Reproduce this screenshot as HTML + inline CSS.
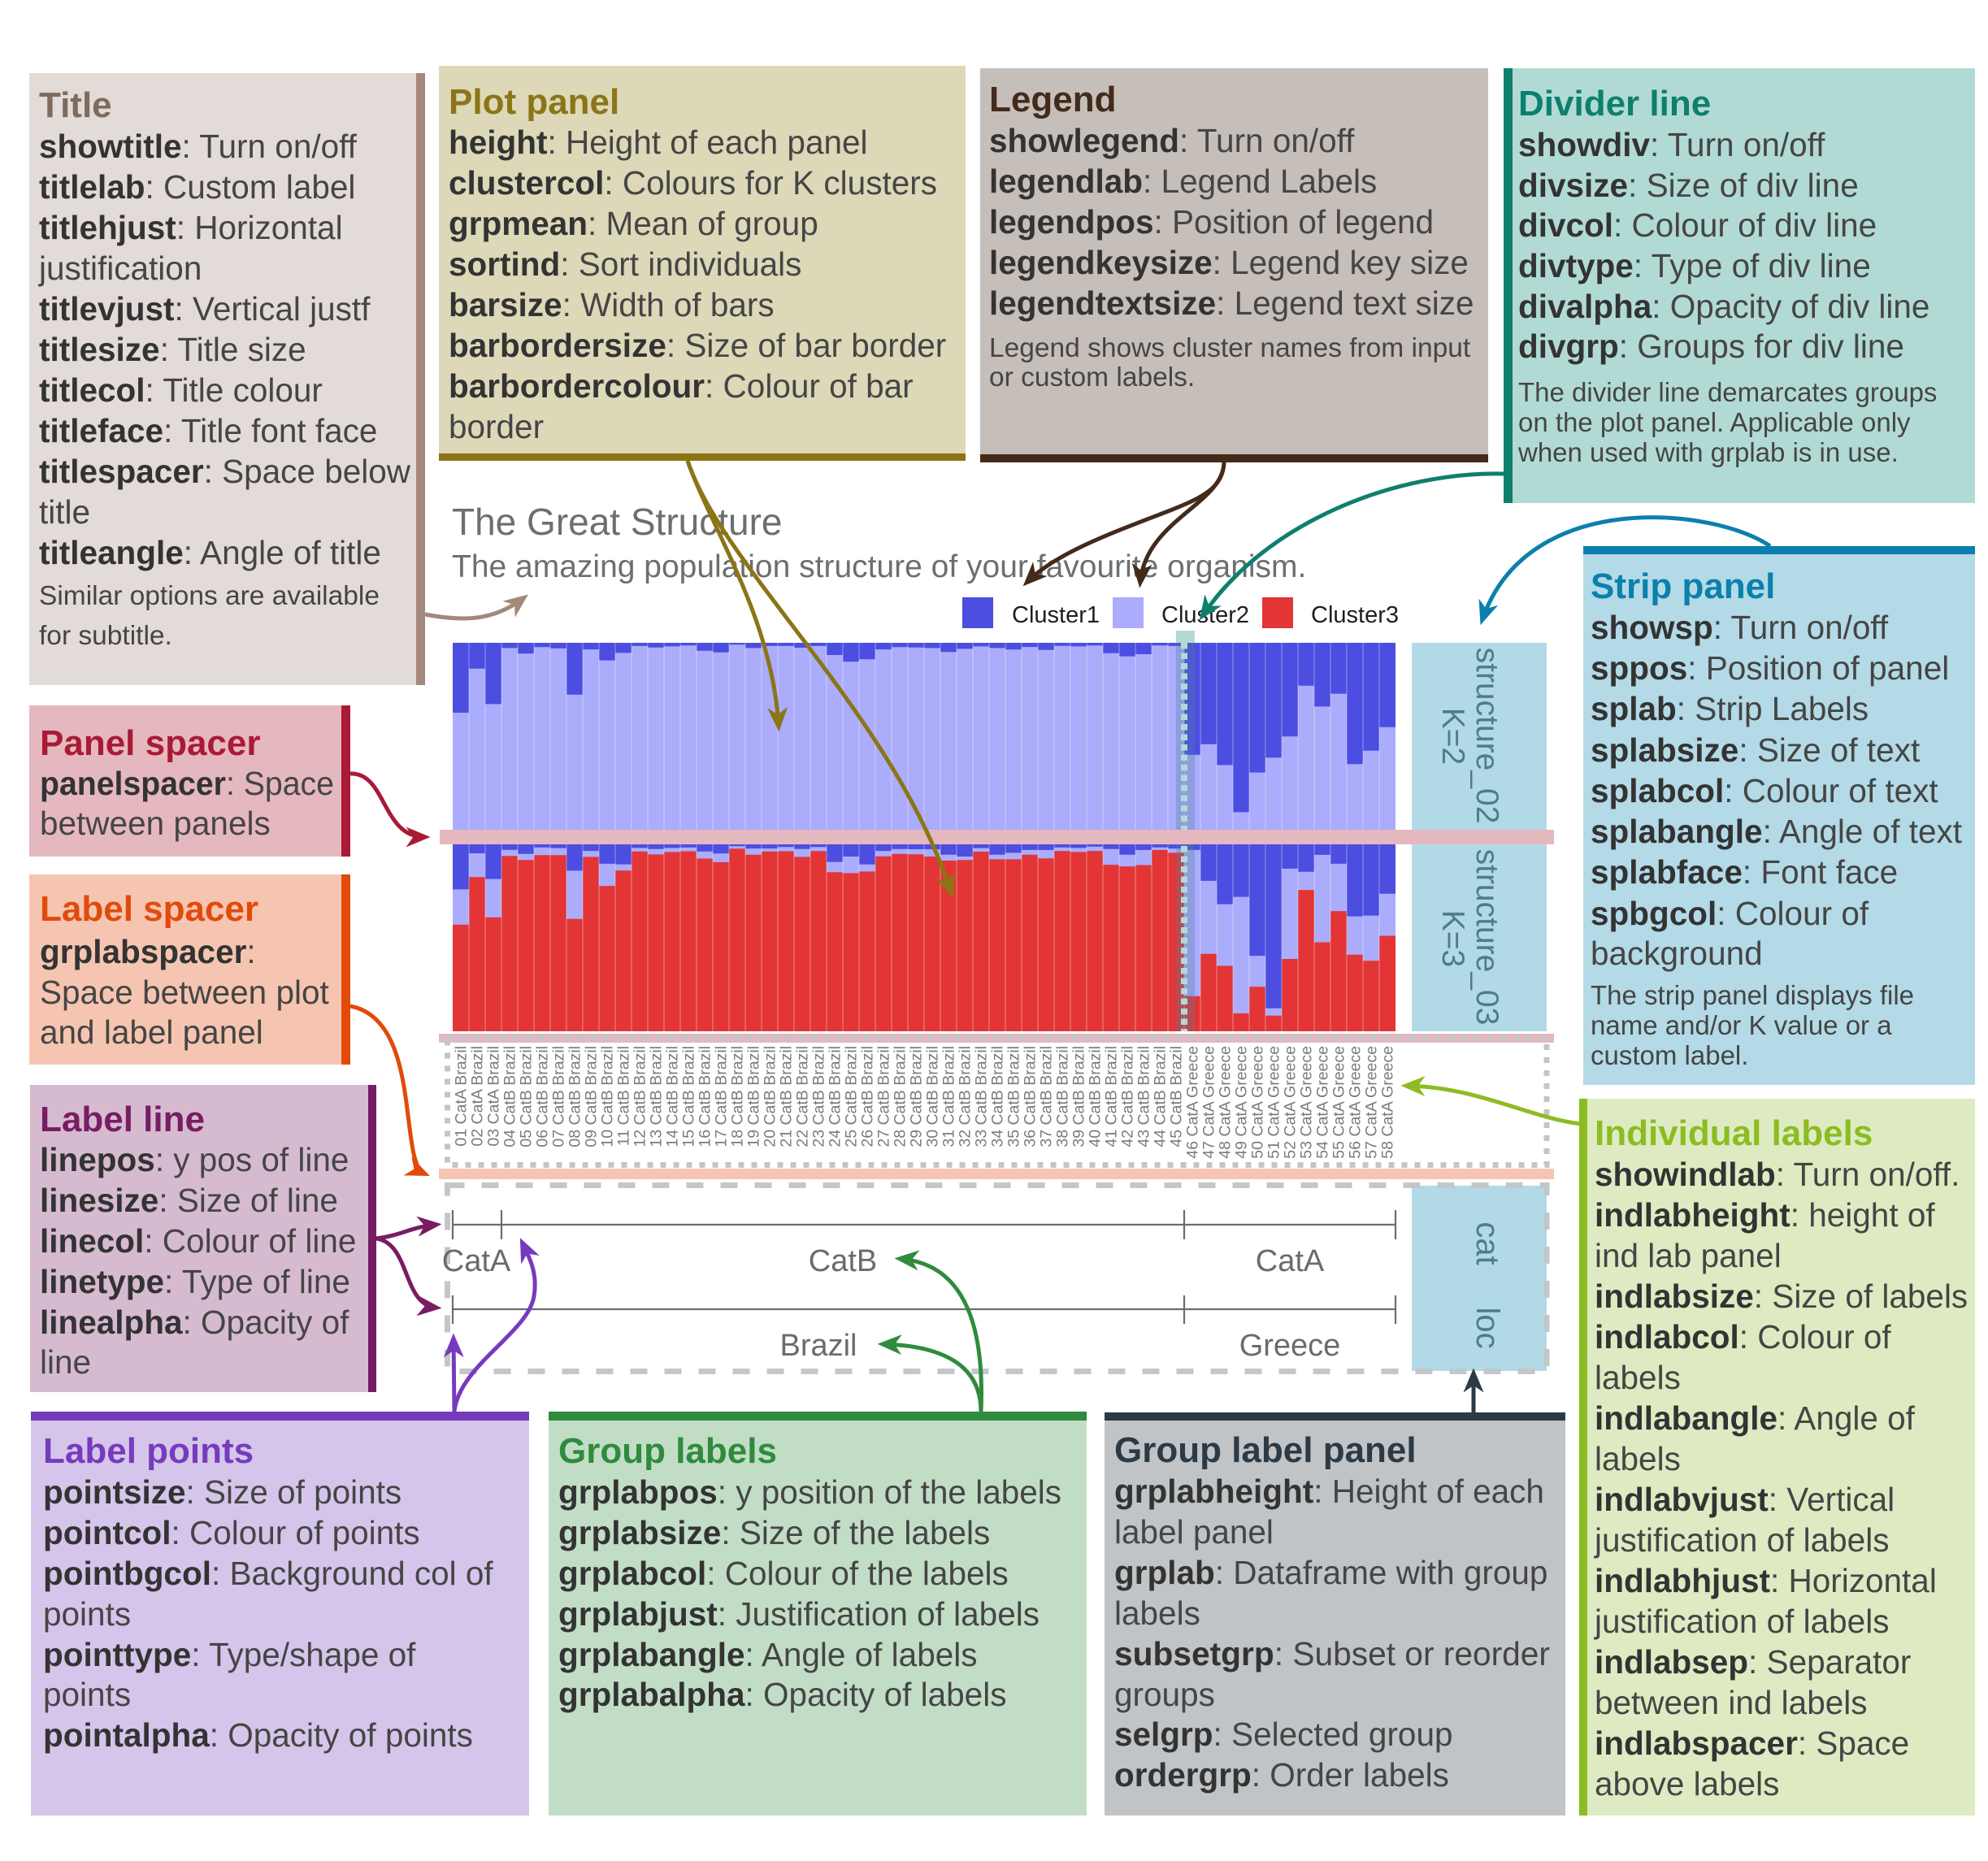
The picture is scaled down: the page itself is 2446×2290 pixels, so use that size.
<!DOCTYPE html>
<html><head><meta charset="utf-8"><style>
html,body{margin:0;padding:0;background:#fff;}
svg{display:block;}
.t{font-family:"Liberation Sans",Arial,sans-serif;font-size:40.5px;fill:#454545;}
.t tspan.b{font-weight:bold;fill:#333;}
.h{font-family:"Liberation Sans",Arial,sans-serif;font-size:44px;font-weight:bold;}
.n{font-family:"Liberation Sans",Arial,sans-serif;font-size:33.5px;fill:#454545;}
.il{font-family:"Liberation Sans",Arial,sans-serif;font-size:19.5px;fill:#7b7b7b;}
.g{font-family:"Liberation Sans",Arial,sans-serif;font-size:38px;fill:#6b6b6b;}
.s{font-family:"Liberation Sans",Arial,sans-serif;font-size:39px;fill:#4f7c8a;}
</style></head><body>
<svg width="2446" height="2290" viewBox="0 0 2446 2290" xmlns="http://www.w3.org/2000/svg">
<defs>
<marker id="aT" viewBox="0 0 12 10" refX="9" refY="5" markerUnits="userSpaceOnUse" markerWidth="30" markerHeight="25" orient="auto"><path d="M0,0L12,5L0,10L3.5,5z" fill="#a3887b"/></marker>
<marker id="aP" viewBox="0 0 12 10" refX="9" refY="5" markerUnits="userSpaceOnUse" markerWidth="30" markerHeight="25" orient="auto"><path d="M0,0L12,5L0,10L3.5,5z" fill="#8b7516"/></marker>
<marker id="aL" viewBox="0 0 12 10" refX="9" refY="5" markerUnits="userSpaceOnUse" markerWidth="30" markerHeight="25" orient="auto"><path d="M0,0L12,5L0,10L3.5,5z" fill="#432a1b"/></marker>
<marker id="aD" viewBox="0 0 12 10" refX="9" refY="5" markerUnits="userSpaceOnUse" markerWidth="30" markerHeight="25" orient="auto"><path d="M0,0L12,5L0,10L3.5,5z" fill="#0e7f6e"/></marker>
<marker id="aS" viewBox="0 0 12 10" refX="9" refY="5" markerUnits="userSpaceOnUse" markerWidth="30" markerHeight="25" orient="auto"><path d="M0,0L12,5L0,10L3.5,5z" fill="#0b80ad"/></marker>
<marker id="aPS" viewBox="0 0 12 10" refX="9" refY="5" markerUnits="userSpaceOnUse" markerWidth="30" markerHeight="25" orient="auto"><path d="M0,0L12,5L0,10L3.5,5z" fill="#a91a35"/></marker>
<marker id="aLS" viewBox="0 0 12 10" refX="9" refY="5" markerUnits="userSpaceOnUse" markerWidth="30" markerHeight="25" orient="auto"><path d="M0,0L12,5L0,10L3.5,5z" fill="#e24a0b"/></marker>
<marker id="aLL" viewBox="0 0 12 10" refX="9" refY="5" markerUnits="userSpaceOnUse" markerWidth="30" markerHeight="25" orient="auto"><path d="M0,0L12,5L0,10L3.5,5z" fill="#771d63"/></marker>
<marker id="aLP" viewBox="0 0 12 10" refX="9" refY="5" markerUnits="userSpaceOnUse" markerWidth="30" markerHeight="25" orient="auto"><path d="M0,0L12,5L0,10L3.5,5z" fill="#763bbd"/></marker>
<marker id="aGL" viewBox="0 0 12 10" refX="9" refY="5" markerUnits="userSpaceOnUse" markerWidth="30" markerHeight="25" orient="auto"><path d="M0,0L12,5L0,10L3.5,5z" fill="#2f8b3d"/></marker>
<marker id="aGP" viewBox="0 0 12 10" refX="9" refY="5" markerUnits="userSpaceOnUse" markerWidth="30" markerHeight="25" orient="auto"><path d="M0,0L12,5L0,10L3.5,5z" fill="#2c3a45"/></marker>
<marker id="aIL" viewBox="0 0 12 10" refX="9" refY="5" markerUnits="userSpaceOnUse" markerWidth="30" markerHeight="25" orient="auto"><path d="M0,0L12,5L0,10L3.5,5z" fill="#8cbc22"/></marker>
</defs>
<rect width="2446" height="2290" fill="#fff"/>

<!-- Title -->
<rect x="36" y="90" width="476" height="753" fill="#e2dbd8"/>
<rect x="512" y="90" width="11" height="753" fill="#a3887b"/>
<text class="h" x="48" y="144" fill="#7d6b5d">Title</text>
<text class="t" x="48" y="194"><tspan class="b">showtitle</tspan>: Turn on/off</text>
<text class="t" x="48" y="244"><tspan class="b">titlelab</tspan>: Custom label</text>
<text class="t" x="48" y="294"><tspan class="b">titlehjust</tspan>: Horizontal</text>
<text class="t" x="48" y="344">justification</text>
<text class="t" x="48" y="394"><tspan class="b">titlevjust</tspan>: Vertical justf</text>
<text class="t" x="48" y="444"><tspan class="b">titlesize</tspan>: Title size</text>
<text class="t" x="48" y="494"><tspan class="b">titlecol</tspan>: Title colour</text>
<text class="t" x="48" y="544"><tspan class="b">titleface</tspan>: Title font face</text>
<text class="t" x="48" y="594"><tspan class="b">titlespacer</tspan>: Space below</text>
<text class="t" x="48" y="644">title</text>
<text class="t" x="48" y="694"><tspan class="b">titleangle</tspan>: Angle of title</text>
<text class="n" x="48" y="744">Similar options are available</text>
<text class="n" x="48" y="793">for subtitle.</text>

<!-- Plot panel -->
<rect x="540" y="81" width="648" height="477" fill="#dcd8b8"/>
<rect x="540" y="558" width="648" height="9" fill="#8b7516"/>
<text class="h" x="552" y="140" fill="#8b7516">Plot panel</text>
<text class="t" x="552" y="189"><tspan class="b">height</tspan>: Height of each panel</text>
<text class="t" x="552" y="239"><tspan class="b">clustercol</tspan>: Colours for K clusters</text>
<text class="t" x="552" y="289"><tspan class="b">grpmean</tspan>: Mean of group</text>
<text class="t" x="552" y="339"><tspan class="b">sortind</tspan>: Sort individuals</text>
<text class="t" x="552" y="389"><tspan class="b">barsize</tspan>: Width of bars</text>
<text class="t" x="552" y="439"><tspan class="b">barbordersize</tspan>: Size of bar border</text>
<text class="t" x="552" y="489"><tspan class="b">barbordercolour</tspan>: Colour of bar</text>
<text class="t" x="552" y="539">border</text>

<!-- Legend -->
<rect x="1206" y="84" width="625" height="476" fill="#c6beb9"/>
<rect x="1206" y="559" width="625" height="10" fill="#432a1b"/>
<text class="h" x="1217" y="137" fill="#432a1b">Legend</text>
<text class="t" x="1217" y="187"><tspan class="b">showlegend</tspan>: Turn on/off</text>
<text class="t" x="1217" y="237"><tspan class="b">legendlab</tspan>: Legend Labels</text>
<text class="t" x="1217" y="287"><tspan class="b">legendpos</tspan>: Position of legend</text>
<text class="t" x="1217" y="337"><tspan class="b">legendkeysize</tspan>: Legend key size</text>
<text class="t" x="1217" y="387"><tspan class="b">legendtextsize</tspan>: Legend text size</text>
<text class="n" x="1217" y="439">Legend shows cluster names from input</text>
<text class="n" x="1217" y="475">or custom labels.</text>

<!-- Divider line -->
<rect x="1861" y="84" width="569" height="535" fill="#b2dad4"/>
<rect x="1850" y="84" width="11" height="535" fill="#0e7f6e"/>
<text class="h" x="1868" y="142" fill="#0e7f6e">Divider line</text>
<text class="t" x="1868" y="192"><tspan class="b">showdiv</tspan>: Turn on/off</text>
<text class="t" x="1868" y="242"><tspan class="b">divsize</tspan>: Size of div line</text>
<text class="t" x="1868" y="291"><tspan class="b">divcol</tspan>: Colour of div line</text>
<text class="t" x="1868" y="341"><tspan class="b">divtype</tspan>: Type of div line</text>
<text class="t" x="1868" y="391"><tspan class="b">divalpha</tspan>: Opacity of div line</text>
<text class="t" x="1868" y="440"><tspan class="b">divgrp</tspan>: Groups for div line</text>
<text class="n" x="1868" y="494" style="font-size:33px">The divider line demarcates groups</text>
<text class="n" x="1868" y="531" style="font-size:33px">on the plot panel. Applicable only</text>
<text class="n" x="1868" y="568" style="font-size:33px">when used with grplab is in use.</text>

<!-- Strip panel -->
<rect x="1948" y="681" width="482" height="654" fill="#b3dae6"/>
<rect x="1948" y="672" width="482" height="10" fill="#0b80ad"/>
<text class="h" x="1957" y="736" fill="#0b80ad">Strip panel</text>
<text class="t" x="1957" y="786"><tspan class="b">showsp</tspan>: Turn on/off</text>
<text class="t" x="1957" y="836"><tspan class="b">sppos</tspan>: Position of panel</text>
<text class="t" x="1957" y="886"><tspan class="b">splab</tspan>: Strip Labels</text>
<text class="t" x="1957" y="937"><tspan class="b">splabsize</tspan>: Size of text</text>
<text class="t" x="1957" y="987"><tspan class="b">splabcol</tspan>: Colour of text</text>
<text class="t" x="1957" y="1037"><tspan class="b">splabangle</tspan>: Angle of text</text>
<text class="t" x="1957" y="1087"><tspan class="b">splabface</tspan>: Font face</text>
<text class="t" x="1957" y="1138"><tspan class="b">spbgcol</tspan>: Colour of</text>
<text class="t" x="1957" y="1187">background</text>
<text class="n" x="1957" y="1236" style="font-size:33px">The strip panel displays file</text>
<text class="n" x="1957" y="1273" style="font-size:33px">name and/or K value or a</text>
<text class="n" x="1957" y="1310" style="font-size:33px">custom label.</text>

<!-- Panel spacer -->
<rect x="36" y="868" width="384" height="186" fill="#e5b8bf"/>
<rect x="420" y="868" width="11" height="186" fill="#a91a35"/>
<text class="h" x="49" y="929" fill="#a91a35">Panel spacer</text>
<text class="t" x="49" y="978" textLength="362" lengthAdjust="spacingAndGlyphs"><tspan class="b">panelspacer</tspan>: Space</text>
<text class="t" x="49" y="1027">between panels</text>

<!-- Label spacer -->
<rect x="36" y="1076" width="384" height="234" fill="#f5c5b1"/>
<rect x="420" y="1076" width="11" height="234" fill="#e24a0b"/>
<text class="h" x="49" y="1133" fill="#e24a0b">Label spacer</text>
<text class="t" x="49" y="1185"><tspan class="b">grplabspacer</tspan>:</text>
<text class="t" x="49" y="1235">Space between plot</text>
<text class="t" x="49" y="1284">and label panel</text>

<!-- Label line -->
<rect x="37" y="1335" width="416" height="378" fill="#d6bbd0"/>
<rect x="453" y="1335" width="10" height="378" fill="#771d63"/>
<text class="h" x="49" y="1392" fill="#771d63">Label line</text>
<text class="t" x="49" y="1441"><tspan class="b">linepos</tspan>: y pos of line</text>
<text class="t" x="49" y="1491"><tspan class="b">linesize</tspan>: Size of line</text>
<text class="t" x="49" y="1541"><tspan class="b">linecol</tspan>: Colour of line</text>
<text class="t" x="49" y="1591"><tspan class="b">linetype</tspan>: Type of line</text>
<text class="t" x="49" y="1641"><tspan class="b">linealpha</tspan>: Opacity of</text>
<text class="t" x="49" y="1690">line</text>

<!-- Label points -->
<rect x="38" y="1747" width="613" height="487" fill="#d5c5ea"/>
<rect x="38" y="1737" width="613" height="11" fill="#763bbd"/>
<text class="h" x="53" y="1800" fill="#763bbd">Label points</text>
<text class="t" x="53" y="1850"><tspan class="b">pointsize</tspan>: Size of points</text>
<text class="t" x="53" y="1900"><tspan class="b">pointcol</tspan>: Colour of points</text>
<text class="t" x="53" y="1950"><tspan class="b">pointbgcol</tspan>: Background col of</text>
<text class="t" x="53" y="2000">points</text>
<text class="t" x="53" y="2050"><tspan class="b">pointtype</tspan>: Type/shape of</text>
<text class="t" x="53" y="2099">points</text>
<text class="t" x="53" y="2149"><tspan class="b">pointalpha</tspan>: Opacity of points</text>

<!-- Group labels -->
<rect x="675" y="1747" width="662" height="487" fill="#c2ddc6"/>
<rect x="675" y="1737" width="662" height="11" fill="#2f8b3d"/>
<text class="h" x="687" y="1800" fill="#2f8b3d">Group labels</text>
<text class="t" x="687" y="1850"><tspan class="b">grplabpos</tspan>: y position of the labels</text>
<text class="t" x="687" y="1900"><tspan class="b">grplabsize</tspan>: Size of the labels</text>
<text class="t" x="687" y="1950"><tspan class="b">grplabcol</tspan>: Colour of the labels</text>
<text class="t" x="687" y="2000"><tspan class="b">grplabjust</tspan>: Justification of labels</text>
<text class="t" x="687" y="2050"><tspan class="b">grplabangle</tspan>: Angle of labels</text>
<text class="t" x="687" y="2099"><tspan class="b">grplabalpha</tspan>: Opacity of labels</text>

<!-- Group label panel -->
<rect x="1359" y="1747" width="567" height="487" fill="#c0c4c7"/>
<rect x="1359" y="1738" width="567" height="10" fill="#2c3a45"/>
<text class="h" x="1371" y="1799" fill="#2c3a45">Group label panel</text>
<text class="t" x="1371" y="1849"><tspan class="b">grplabheight</tspan>: Height of each</text>
<text class="t" x="1371" y="1899">label panel</text>
<text class="t" x="1371" y="1949"><tspan class="b">grplab</tspan>: Dataframe with group</text>
<text class="t" x="1371" y="1999">labels</text>
<text class="t" x="1371" y="2049" textLength="536" lengthAdjust="spacingAndGlyphs"><tspan class="b">subsetgrp</tspan>: Subset or reorder</text>
<text class="t" x="1371" y="2099">groups</text>
<text class="t" x="1371" y="2148"><tspan class="b">selgrp</tspan>: Selected group</text>
<text class="t" x="1371" y="2198"><tspan class="b">ordergrp</tspan>: Order labels</text>

<!-- Individual labels -->
<rect x="1953" y="1352" width="477" height="882" fill="#deebc2"/>
<rect x="1943" y="1352" width="10" height="882" fill="#8cbc22"/>
<text class="h" x="1962" y="1409" fill="#8cbc22">Individual labels</text>
<text class="t" x="1962" y="1459"><tspan class="b">showindlab</tspan>: Turn on/off.</text>
<text class="t" x="1962" y="1509"><tspan class="b">indlabheight</tspan>: height of</text>
<text class="t" x="1962" y="1559">ind lab panel</text>
<text class="t" x="1962" y="1609"><tspan class="b">indlabsize</tspan>: Size of labels</text>
<text class="t" x="1962" y="1659"><tspan class="b">indlabcol</tspan>: Colour of</text>
<text class="t" x="1962" y="1709">labels</text>
<text class="t" x="1962" y="1759"><tspan class="b">indlabangle</tspan>: Angle of</text>
<text class="t" x="1962" y="1809">labels</text>
<text class="t" x="1962" y="1859"><tspan class="b">indlabvjust</tspan>: Vertical</text>
<text class="t" x="1962" y="1909">justification of labels</text>
<text class="t" x="1962" y="1959"><tspan class="b">indlabhjust</tspan>: Horizontal</text>
<text class="t" x="1962" y="2009">justification of labels</text>
<text class="t" x="1962" y="2059"><tspan class="b">indlabsep</tspan>: Separator</text>
<text class="t" x="1962" y="2109">between ind labels</text>
<text class="t" x="1962" y="2159"><tspan class="b">indlabspacer</tspan>: Space</text>
<text class="t" x="1962" y="2209">above labels</text>

<!-- ===== Plot ===== -->
<text x="556" y="658" style="font-family:'Liberation Sans',Arial,sans-serif;font-size:46px;fill:#6e6e6e">The Great Structure</text>
<text x="556" y="710" style="font-family:'Liberation Sans',Arial,sans-serif;font-size:39px;fill:#6e6e6e">The amazing population structure of your favourite organism.</text>

<rect x="1184" y="735" width="38" height="38" fill="#4b4ee0"/>
<rect x="1369" y="735" width="38" height="38" fill="#abacfb"/>
<rect x="1553" y="735" width="38" height="38" fill="#e33535"/>
<g style="font-family:'Liberation Sans',Arial,sans-serif;font-size:29px;fill:#1e1e1e">
<text x="1245" y="766">Cluster1</text>
<text x="1429" y="766">Cluster2</text>
<text x="1613" y="766">Cluster3</text>
</g>

<rect x="1447" y="776" width="23" height="15" fill="#b2dad4"/>

<!-- panel 1 -->
<rect x="557" y="791" width="1160" height="230" fill="#abacfb"/>
<path fill="#4b4ee0" d="M557 791h20v86h-20zM577 791h20v31.7h-20zM597 791h20v75.4h-20zM617 791h20v6.4h-20zM637 791h20v13.3h-20zM657 791h20v5.3h-20zM677 791h20v6.9h-20zM697 791h20v63.7h-20zM717 791h20v8.1h-20zM737 791h20v21.6h-20zM757 791h20v12.4h-20zM777 791h20v3.9h-20zM797 791h20v5.8h-20zM817 791h20v4.4h-20zM837 791h20v3.2h-20zM857 791h20v9.7h-20zM877 791h20v11.7h-20zM897 791h20v2.3h-20zM917 791h20v6.4h-20zM937 791h20v3.9h-20zM957 791h20v3.9h-20zM977 791h20v6h-20zM997 791h20v3.9h-20zM1017 791h20v15h-20zM1037 791h20v23.2h-20zM1057 791h20v20.2h-20zM1077 791h20v8.1h-20zM1097 791h20v5.3h-20zM1117 791h20v5.8h-20zM1137 791h20v6.4h-20zM1157 791h20v11.3h-20zM1177 791h20v7.4h-20zM1197 791h20v4.4h-20zM1217 791h20v6.4h-20zM1237 791h20v8.3h-20zM1257 791h20v5.1h-20zM1277 791h20v8.7h-20zM1297 791h20v3.7h-20zM1317 791h20v4.4h-20zM1337 791h20v3.2h-20zM1357 791h20v12.7h-20zM1377 791h20v16.6h-20zM1397 791h20v14h-20zM1417 791h20v3.2h-20zM1437 791h20v3.9h-20zM1457 791h20v137.8h-20zM1477 791h20v124.7h-20zM1497 791h20v150.4h-20zM1517 791h20v208.4h-20zM1537 791h20v159.6h-20zM1557 791h20v141.2h-20zM1577 791h20v115.2h-20zM1597 791h20v52.7h-20zM1617 791h20v78.4h-20zM1637 791h20v62.6h-20zM1657 791h20v149.3h-20zM1677 791h20v132.7h-20zM1697 791h20v103.7h-20z"/>

<!-- panel 2 -->
<rect x="557" y="1039" width="1160" height="230" fill="#e33535"/>
<path fill="#abacfb" d="M557 1039h20v98.7h-20zM577 1039h20v40.3h-20zM597 1039h20v89.9h-20zM617 1039h20v14.3h-20zM637 1039h20v19.3h-20zM657 1039h20v13.3h-20zM677 1039h20v13.3h-20zM697 1039h20v91.8h-20zM717 1039h20v15.4h-20zM737 1039h20v51.1h-20zM757 1039h20v32.2h-20zM777 1039h20v8.7h-20zM797 1039h20v12.4h-20zM817 1039h20v9.4h-20zM837 1039h20v8.5h-20zM857 1039h20v17.5h-20zM877 1039h20v21.9h-20zM897 1039h20v5.3h-20zM917 1039h20v12.7h-20zM937 1039h20v8.7h-20zM957 1039h20v8.5h-20zM977 1039h20v15.4h-20zM997 1039h20v8.3h-20zM1017 1039h20v34.3h-20zM1037 1039h20v35.4h-20zM1057 1039h20v33.4h-20zM1077 1039h20v14.7h-20zM1097 1039h20v11.7h-20zM1117 1039h20v12.2h-20zM1137 1039h20v15h-20zM1157 1039h20v20h-20zM1177 1039h20v19.3h-20zM1197 1039h20v9h-20zM1217 1039h20v18.4h-20zM1237 1039h20v18.4h-20zM1257 1039h20v12.7h-20zM1277 1039h20v17.3h-20zM1297 1039h20v8.1h-20zM1317 1039h20v9.4h-20zM1337 1039h20v8.1h-20zM1357 1039h20v25.1h-20zM1377 1039h20v27.1h-20zM1397 1039h20v25.5h-20zM1417 1039h20v6.9h-20zM1437 1039h20v10.4h-20zM1457 1039h20v186.8h-20zM1477 1039h20v134.8h-20zM1497 1039h20v149.5h-20zM1517 1039h20v207.9h-20zM1537 1039h20v175.3h-20zM1557 1039h20v210.7h-20zM1577 1039h20v141h-20zM1597 1039h20v56.1h-20zM1617 1039h20v120.5h-20zM1637 1039h20v82.1h-20zM1657 1039h20v135.7h-20zM1677 1039h20v143.3h-20zM1697 1039h20v112.5h-20z"/>
<path fill="#4b4ee0" d="M557 1039h20v55.4h-20zM577 1039h20v11h-20zM597 1039h20v42.6h-20zM617 1039h20v6.7h-20zM637 1039h20v11.7h-20zM657 1039h20v3.7h-20zM677 1039h20v4.6h-20zM697 1039h20v32.4h-20zM717 1039h20v8.1h-20zM737 1039h20v23.9h-20zM757 1039h20v24.6h-20zM777 1039h20v4.4h-20zM797 1039h20v5.8h-20zM817 1039h20v4.4h-20zM837 1039h20v3.9h-20zM857 1039h20v8.7h-20zM877 1039h20v11.3h-20zM897 1039h20v2.3h-20zM917 1039h20v5.1h-20zM937 1039h20v5.1h-20zM957 1039h20v3.2h-20zM977 1039h20v5.8h-20zM997 1039h20v3.2h-20zM1017 1039h20v21.6h-20zM1037 1039h20v15h-20zM1057 1039h20v24.6h-20zM1077 1039h20v8.1h-20zM1097 1039h20v5.8h-20zM1117 1039h20v6h-20zM1137 1039h20v6h-20zM1157 1039h20v12.7h-20zM1177 1039h20v15h-20zM1197 1039h20v4.6h-20zM1217 1039h20v12.7h-20zM1237 1039h20v10.4h-20zM1257 1039h20v6.9h-20zM1277 1039h20v6.9h-20zM1297 1039h20v3.7h-20zM1317 1039h20v4.4h-20zM1337 1039h20v2.8h-20zM1357 1039h20v5.8h-20zM1377 1039h20v12.7h-20zM1397 1039h20v6.9h-20zM1417 1039h20v3.7h-20zM1437 1039h20v5.1h-20zM1457 1039h20v6.9h-20zM1477 1039h20v44.9h-20zM1497 1039h20v73.6h-20zM1517 1039h20v64.6h-20zM1537 1039h20v137.1h-20zM1557 1039h20v201.7h-20zM1577 1039h20v29.9h-20zM1597 1039h20v33.8h-20zM1617 1039h20v12.9h-20zM1637 1039h20v23.9h-20zM1657 1039h20v88.6h-20zM1677 1039h20v87.6h-20zM1697 1039h20v60.7h-20z"/>
<path stroke="#ffffff" stroke-opacity="0.35" stroke-width="1.2" fill="none" d="M577 791V1269M597 791V1269M617 791V1269M637 791V1269M657 791V1269M677 791V1269M697 791V1269M717 791V1269M737 791V1269M757 791V1269M777 791V1269M797 791V1269M817 791V1269M837 791V1269M857 791V1269M877 791V1269M897 791V1269M917 791V1269M937 791V1269M957 791V1269M977 791V1269M997 791V1269M1017 791V1269M1037 791V1269M1057 791V1269M1077 791V1269M1097 791V1269M1117 791V1269M1137 791V1269M1157 791V1269M1177 791V1269M1197 791V1269M1217 791V1269M1237 791V1269M1257 791V1269M1277 791V1269M1297 791V1269M1317 791V1269M1337 791V1269M1357 791V1269M1377 791V1269M1397 791V1269M1417 791V1269M1437 791V1269M1457 791V1269M1477 791V1269M1497 791V1269M1517 791V1269M1537 791V1269M1557 791V1269M1577 791V1269M1597 791V1269M1617 791V1269M1637 791V1269M1657 791V1269M1677 791V1269M1697 791V1269"/>

<rect x="1447" y="791" width="23" height="478" fill="#4f7fa3" fill-opacity="0.32"/>
<line x1="1457" y1="791" x2="1457" y2="1269" stroke="#b2dad4" stroke-width="8" stroke-dasharray="7.5 5"/>

<rect x="1737" y="791" width="166" height="230" fill="#b2d9e6"/>
<rect x="1737" y="1039" width="166" height="230" fill="#b2d9e6"/>
<text class="s" text-anchor="middle" transform="translate(1817 905) rotate(90)">structure_02</text>
<text class="s" text-anchor="middle" transform="translate(1775 906) rotate(90)">K=2</text>
<text class="s" text-anchor="middle" transform="translate(1817 1153) rotate(90)">structure_03</text>
<text class="s" text-anchor="middle" transform="translate(1775 1155) rotate(90)">K=3</text>

<rect x="541" y="1021" width="1371" height="18" fill="#e5b8bf"/>

<rect x="540" y="1272" width="1372" height="11" fill="#e5b8bf"/>
<rect x="550.5" y="1277.5" width="1352.5" height="156" fill="none" stroke="#c2c6c9" stroke-width="7" stroke-dasharray="7 9"/>
<g class="il" text-anchor="end">
<text transform="translate(573.5 1287) rotate(-90)">01 CatA Brazil</text>
<text transform="translate(593.5 1287) rotate(-90)">02 CatA Brazil</text>
<text transform="translate(613.5 1287) rotate(-90)">03 CatA Brazil</text>
<text transform="translate(633.5 1287) rotate(-90)">04 CatB Brazil</text>
<text transform="translate(653.5 1287) rotate(-90)">05 CatB Brazil</text>
<text transform="translate(673.5 1287) rotate(-90)">06 CatB Brazil</text>
<text transform="translate(693.5 1287) rotate(-90)">07 CatB Brazil</text>
<text transform="translate(713.5 1287) rotate(-90)">08 CatB Brazil</text>
<text transform="translate(733.5 1287) rotate(-90)">09 CatB Brazil</text>
<text transform="translate(753.5 1287) rotate(-90)">10 CatB Brazil</text>
<text transform="translate(773.5 1287) rotate(-90)">11 CatB Brazil</text>
<text transform="translate(793.5 1287) rotate(-90)">12 CatB Brazil</text>
<text transform="translate(813.5 1287) rotate(-90)">13 CatB Brazil</text>
<text transform="translate(833.5 1287) rotate(-90)">14 CatB Brazil</text>
<text transform="translate(853.5 1287) rotate(-90)">15 CatB Brazil</text>
<text transform="translate(873.5 1287) rotate(-90)">16 CatB Brazil</text>
<text transform="translate(893.5 1287) rotate(-90)">17 CatB Brazil</text>
<text transform="translate(913.5 1287) rotate(-90)">18 CatB Brazil</text>
<text transform="translate(933.5 1287) rotate(-90)">19 CatB Brazil</text>
<text transform="translate(953.5 1287) rotate(-90)">20 CatB Brazil</text>
<text transform="translate(973.5 1287) rotate(-90)">21 CatB Brazil</text>
<text transform="translate(993.5 1287) rotate(-90)">22 CatB Brazil</text>
<text transform="translate(1013.5 1287) rotate(-90)">23 CatB Brazil</text>
<text transform="translate(1033.5 1287) rotate(-90)">24 CatB Brazil</text>
<text transform="translate(1053.5 1287) rotate(-90)">25 CatB Brazil</text>
<text transform="translate(1073.5 1287) rotate(-90)">26 CatB Brazil</text>
<text transform="translate(1093.5 1287) rotate(-90)">27 CatB Brazil</text>
<text transform="translate(1113.5 1287) rotate(-90)">28 CatB Brazil</text>
<text transform="translate(1133.5 1287) rotate(-90)">29 CatB Brazil</text>
<text transform="translate(1153.5 1287) rotate(-90)">30 CatB Brazil</text>
<text transform="translate(1173.5 1287) rotate(-90)">31 CatB Brazil</text>
<text transform="translate(1193.5 1287) rotate(-90)">32 CatB Brazil</text>
<text transform="translate(1213.5 1287) rotate(-90)">33 CatB Brazil</text>
<text transform="translate(1233.5 1287) rotate(-90)">34 CatB Brazil</text>
<text transform="translate(1253.5 1287) rotate(-90)">35 CatB Brazil</text>
<text transform="translate(1273.5 1287) rotate(-90)">36 CatB Brazil</text>
<text transform="translate(1293.5 1287) rotate(-90)">37 CatB Brazil</text>
<text transform="translate(1313.5 1287) rotate(-90)">38 CatB Brazil</text>
<text transform="translate(1333.5 1287) rotate(-90)">39 CatB Brazil</text>
<text transform="translate(1353.5 1287) rotate(-90)">40 CatB Brazil</text>
<text transform="translate(1373.5 1287) rotate(-90)">41 CatB Brazil</text>
<text transform="translate(1393.5 1287) rotate(-90)">42 CatB Brazil</text>
<text transform="translate(1413.5 1287) rotate(-90)">43 CatB Brazil</text>
<text transform="translate(1433.5 1287) rotate(-90)">44 CatB Brazil</text>
<text transform="translate(1453.5 1287) rotate(-90)">45 CatB Brazil</text>
<text transform="translate(1473.5 1287) rotate(-90)">46 CatA Greece</text>
<text transform="translate(1493.5 1287) rotate(-90)">47 CatA Greece</text>
<text transform="translate(1513.5 1287) rotate(-90)">48 CatA Greece</text>
<text transform="translate(1533.5 1287) rotate(-90)">49 CatA Greece</text>
<text transform="translate(1553.5 1287) rotate(-90)">50 CatA Greece</text>
<text transform="translate(1573.5 1287) rotate(-90)">51 CatA Greece</text>
<text transform="translate(1593.5 1287) rotate(-90)">52 CatA Greece</text>
<text transform="translate(1613.5 1287) rotate(-90)">53 CatA Greece</text>
<text transform="translate(1633.5 1287) rotate(-90)">54 CatA Greece</text>
<text transform="translate(1653.5 1287) rotate(-90)">55 CatA Greece</text>
<text transform="translate(1673.5 1287) rotate(-90)">56 CatA Greece</text>
<text transform="translate(1693.5 1287) rotate(-90)">57 CatA Greece</text>
<text transform="translate(1713.5 1287) rotate(-90)">58 CatA Greece</text>
</g>

<rect x="540" y="1438" width="1372" height="13" fill="#f5c4b2"/>

<rect x="1737" y="1459" width="166" height="228" fill="#b2d9e6"/>
<text class="s" style="font-size:40px" text-anchor="middle" transform="translate(1817 1530) rotate(90)">cat</text>
<text class="s" style="font-size:40px" text-anchor="middle" transform="translate(1817 1634) rotate(90)">loc</text>
<rect x="550.5" y="1458.5" width="1352.5" height="229" fill="none" stroke="#c3c7ca" stroke-width="7" stroke-dasharray="21 21"/>
<g stroke="#6d6d6d" stroke-width="2.2" fill="none">
<path d="M557 1507H1717M557 1489V1525M617 1489V1525M1457 1489V1525M1717 1489V1525"/>
<path d="M557 1611H1717M557 1594V1629M1457 1594V1629M1717 1594V1629"/>
</g>
<g class="g" text-anchor="middle">
<text x="586" y="1564">CatA</text>
<text x="1037" y="1564">CatB</text>
<text x="1587" y="1564">CatA</text>
<text x="1007" y="1668">Brazil</text>
<text x="1587" y="1668">Greece</text>
</g>

<!-- ===== Arrows ===== -->
<g fill="none" stroke-width="5">
<path d="M523 756C575 766 610 762 644 736" stroke="#a3887b" marker-end="url(#aT)"/>
<path d="M846 567C875 650 950 760 958 893" stroke="#8b7516" marker-end="url(#aP)"/>
<path d="M846 567C890 700 1100 880 1170 1098" stroke="#8b7516" marker-end="url(#aP)"/>
<path d="M1506 569C1505 600 1480 612 1440 628C1370 655 1300 680 1264 716" stroke="#432a1b" marker-end="url(#aL)"/>
<path d="M1506 569C1505 620 1410 640 1403 716" stroke="#432a1b" marker-end="url(#aL)"/>
<path d="M1850 583C1720 580 1560 640 1480 757" stroke="#0e7f6e" marker-end="url(#aD)"/>
<path d="M2178 672C2110 625 1880 600 1824 762" stroke="#0b80ad" marker-end="url(#aS)"/>
<path d="M431 952C475 950 470 1030 522 1030" stroke="#a91a35" marker-end="url(#aPS)"/>
<path d="M431 1238C520 1255 490 1430 522 1444" stroke="#e24a0b" marker-end="url(#aLS)"/>
<path d="M463 1524C495 1520 505 1510 536 1507" stroke="#771d63" marker-end="url(#aLL)"/>
<path d="M463 1524C505 1530 495 1605 536 1609" stroke="#771d63" marker-end="url(#aLL)"/>
<path d="M559 1737L558 1648" stroke="#763bbd" marker-end="url(#aLP)"/>
<path d="M559 1737C565 1680 650 1640 657 1595C662 1565 650 1545 643 1530" stroke="#763bbd" marker-end="url(#aLP)"/>
<path d="M1207 1737C1212 1620 1180 1555 1108 1549" stroke="#2f8b3d" marker-end="url(#aGL)"/>
<path d="M1207 1737C1207 1680 1160 1656 1087 1654" stroke="#2f8b3d" marker-end="url(#aGL)"/>
<path d="M1813 1738L1813 1691" stroke="#2c3a45" marker-end="url(#aGP)"/>
<path d="M1945 1383C1880 1375 1820 1338 1731 1336" stroke="#8cbc22" marker-end="url(#aIL)"/>
</g>
</svg>
</body></html>
